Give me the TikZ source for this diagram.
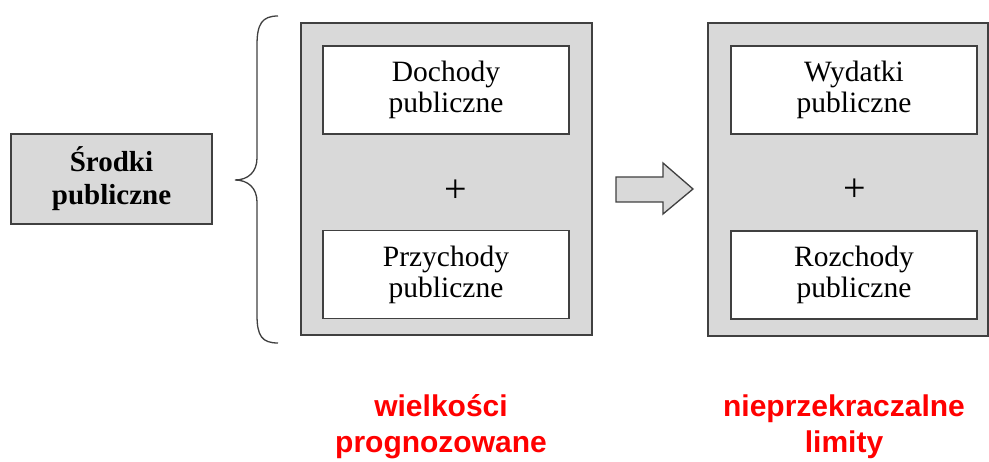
\documentclass[tikz,border=0pt]{standalone}
\usepackage{fontspec}
\setmainfont{Liberation Serif}
\setsansfont{Liberation Sans}
\begin{document}
\begin{tikzpicture}[x=1pt,y=-1pt,
  boxline/.style={draw=black!75, line width=1.6pt},
  graybox/.style={boxline, fill=gray!30, rectangle, inner sep=0pt},
  whitebox/.style={boxline, fill=white, rectangle, inner sep=0pt, minimum width=246pt, minimum height=88pt, align=center, font=\fontsize{29.5}{31}\selectfont},
  redlabel/.style={text=red, align=center, font=\sffamily\bfseries\fontsize{30}{36}\selectfont, inner sep=0pt},
  plussign/.style={font=\fontsize{40}{40}\selectfont, inner sep=0pt}
]
\useasboundingbox (0,0) rectangle (989,462);
% left box
\node[graybox, minimum width=201pt, minimum height=90pt, align=center, font=\bfseries\fontsize{29}{33}\selectfont] (srodki) at (111.5,179) {Środki\\publiczne};
% brace
\draw[draw=black!75, line width=1.3pt] (278,16) .. controls (262,16) and (257,24) .. (257,45) -- (257,158) .. controls (257,172) and (248,180) .. (235,180) .. controls (248,180) and (257,188) .. (257,202) -- (257,315) .. controls (257,336) and (262,343) .. (278,343);
% first big box
\node[graybox, minimum width=291pt, minimum height=312pt] (prog) at (446.5,179) {};
\node[whitebox] (doch) at (446,90) {Dochody\\publiczne};
\node[whitebox] (przych) at (446,274.5) {Przychody\\publiczne};
\node[plussign] (plus1) at (456,191) {+};
% block arrow
\draw[boxline, line width=1.3pt, fill=gray!30] (616,177) -- (663,177) -- (663,163) -- (693,189) -- (663,214) -- (663,202) -- (616,202) -- cycle;
% second big box
\node[graybox, minimum width=280pt, minimum height=313pt] (lim) at (848,179.5) {};
\node[whitebox] (wyd) at (854,90) {Wydatki\\publiczne};
\node[whitebox] (rozch) at (854,275) {Rozchody\\publiczne};
\node[plussign] (plus2) at (855,190) {+};
% red labels
\node[redlabel] (wp) at (441,427) {wielkości\\prognozowane};
\node[redlabel] (nl) at (844,427) {nieprzekraczalne\\limity};
\end{tikzpicture}
\end{document}
